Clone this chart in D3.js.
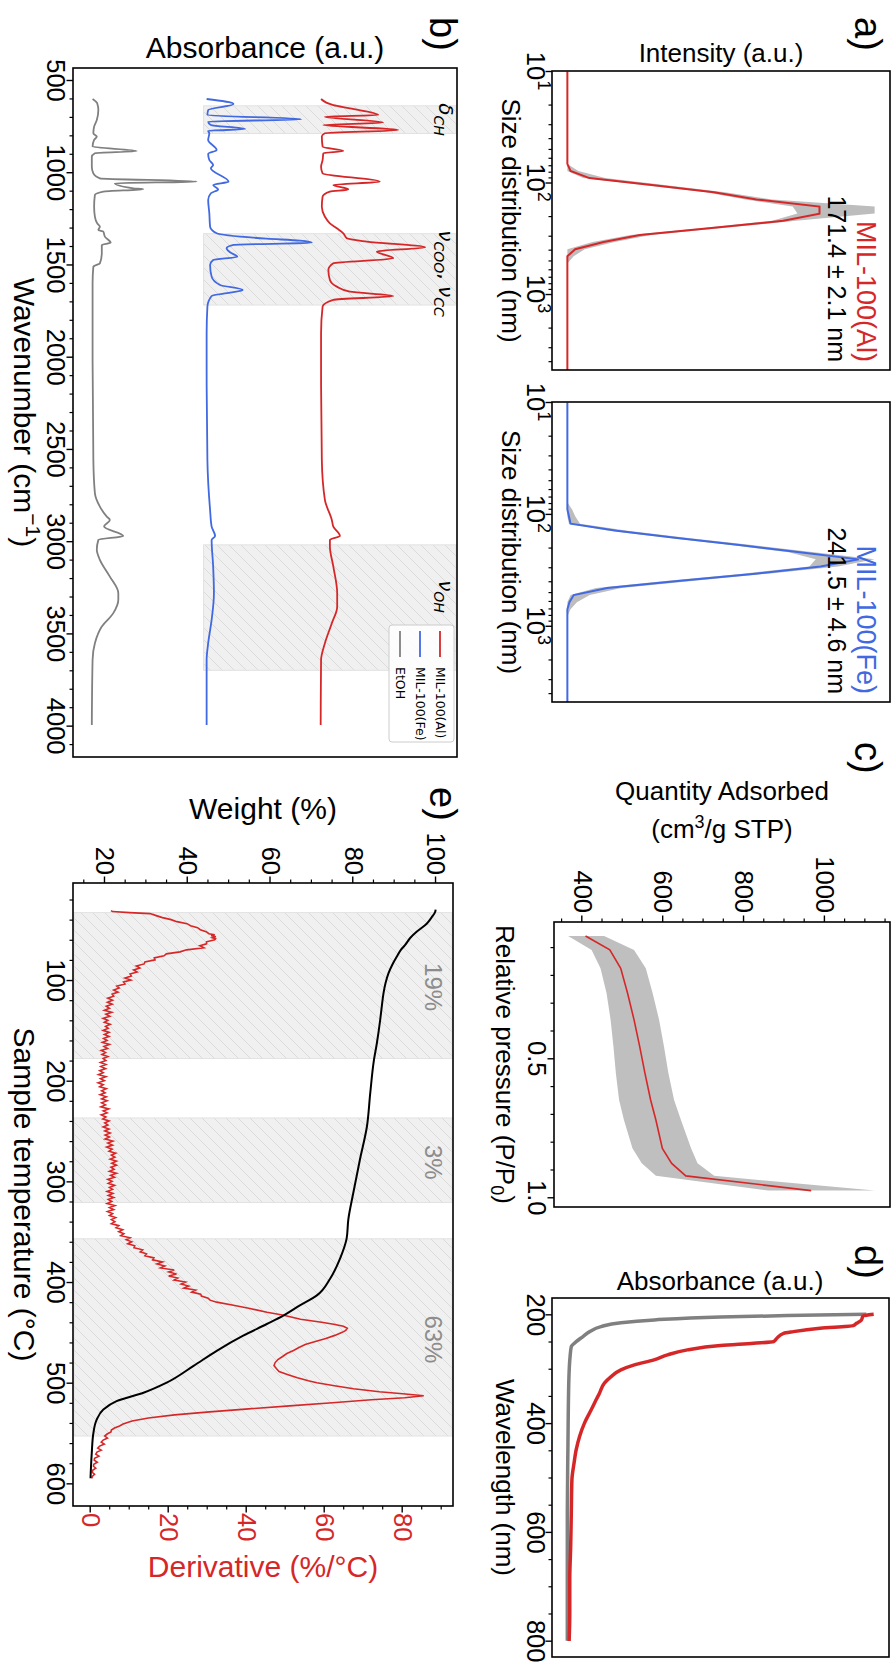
<!DOCTYPE html>
<html><head><meta charset="utf-8">
<script src="https://cdn.jsdelivr.net/npm/d3@7"></script>
<style>body{margin:0;background:#fff;overflow:hidden}svg{display:block}</style>
</head><body>
<script>
// ---------------- DATA ----------------
// (a) DLS size distribution bins (nm)
const sizeBins = [10.10,11.70,13.54,15.69,18.17,21.04,24.36,28.21,32.67,37.84,43.82,50.75,58.77,68.06,78.82,91.28,105.7,122.4,141.8,164.2,190.1,220.2,255.0,295.3,342.0,396.1,458.7,531.2,615.1,712.4,825.0,955.4,1106,1281,1484,1718,1990,2305,2669,3091,3580,4145,4801];
const alMean = [0,0,0,0,0,0,0,0,0,0,0,0,0,0,0.2,1.4,5.5,9.3,12.0,16.0,16.0,13.7,9.3,4.6,2.3,0.5,0,0,0,0,0,0,0,0,0,0,0,0,0,0,0,0,0];
const alLow  = [0,0,0,0,0,0,0,0,0,0,0,0,0,0,0,1.0,4.9,8.8,11.3,14.3,14.6,13.0,8.8,4.0,1.6,0,0,0,0,0,0,0,0,0,0,0,0,0,0,0,0,0,0];
const alHigh = [0,0,0,0,0,0,0,0,0,0,0,0,0,0,0.7,2.4,6.3,10.0,13.0,19.5,19.5,14.5,10.0,5.3,3.0,1.1,0.4,0,0,0,0,0,0,0,0,0,0,0,0,0,0,0,0];
const feMean = [0,0,0,0,0,0,0,0,0,0,0,0,0,0,0,0,0.1,0.2,3.1,6.9,10.8,14.6,18.3,15.9,11.8,7.1,2.5,0.4,0.13,0,0,0,0,0,0,0,0,0,0,0,0,0,0];
const feLow  = [0,0,0,0,0,0,0,0,0,0,0,0,0,0,0,0,0,0.1,2.6,6.4,10.3,13.9,15.6,15.2,11.0,6.3,1.8,0.2,0,0,0,0,0,0,0,0,0,0,0,0,0,0,0];
const feHigh = [0,0,0,0,0,0,0,0,0,0,0,0,0,0,0,0.3,0.5,0.8,3.8,7.6,11.6,15.5,19.3,17.0,12.6,8.0,3.4,1.4,0.6,0.2,0,0,0,0,0,0,0,0,0,0,0,0,0];
const sizeMajor = [10,100,1000];
const sizeMinor = [20,30,40,50,60,70,80,90,200,300,400,500,600,700,800,900,2000,3000,4000];

// (b) FTIR  [wavenumber, absorbance]
const ftirAl = [[603,0.646],[636,0.678],[654,0.721],[690,0.795],[699,0.656],[731,0.808],[744,0.652],[771,0.847],[789,0.656],[807,0.648],[861,0.650],[885,0.704],[897,0.652],[934,0.650],[970,0.646],[1006,0.650],[1051,0.799],[1069,0.678],[1093,0.717],[1105,0.669],[1132,0.650],[1187,0.648],[1241,0.656],[1277,0.669],[1304,0.687],[1331,0.704],[1358,0.713],[1376,0.765],[1407,0.917],[1430,0.791],[1467,0.834],[1494,0.678],[1530,0.665],[1584,0.669],[1620,0.687],[1647,0.721],[1671,0.834],[1692,0.678],[1729,0.650],[1873,0.646],[2072,0.646],[2560,0.648],[2776,0.656],[2885,0.674],[2921,0.678],[2972,0.695],[2993,0.669],[3029,0.669],[3138,0.678],[3282,0.688],[3355,0.688],[3445,0.674],[3553,0.656],[3644,0.646],[3996,0.645]];
const ftirFe = [[603,0.348],[630,0.418],[663,0.352],[690,0.350],[713,0.595],[726,0.352],[744,0.359],[766,0.448],[776,0.352],[789,0.355],[825,0.352],[879,0.374],[901,0.352],[934,0.355],[961,0.365],[979,0.359],[1051,0.405],[1069,0.365],[1093,0.378],[1114,0.359],[1150,0.352],[1223,0.355],[1295,0.357],[1331,0.374],[1360,0.504],[1371,0.591],[1382,0.622],[1394,0.418],[1412,0.400],[1434,0.409],[1458,0.428],[1476,0.365],[1503,0.357],[1566,0.361],[1611,0.383],[1638,0.442],[1653,0.409],[1671,0.361],[1729,0.350],[1873,0.348],[2072,0.348],[2560,0.350],[2831,0.357],[2921,0.361],[2972,0.370],[2993,0.361],[3138,0.365],[3282,0.367],[3427,0.361],[3553,0.352],[3644,0.348],[3996,0.348]];
const ftirEtOH = [[603,0.051],[626,0.063],[663,0.066],[717,0.062],[753,0.055],[789,0.053],[807,0.062],[825,0.055],[861,0.051],[885,0.166],[897,0.057],[916,0.049],[970,0.049],[1006,0.053],[1033,0.070],[1051,0.322],[1060,0.109],[1087,0.157],[1092,0.183],[1105,0.079],[1123,0.057],[1187,0.055],[1241,0.057],[1277,0.063],[1295,0.070],[1313,0.066],[1322,0.079],[1349,0.083],[1382,0.098],[1394,0.075],[1439,0.075],[1494,0.070],[1512,0.053],[1602,0.051],[2018,0.051],[2560,0.053],[2740,0.057],[2813,0.070],[2867,0.088],[2885,0.096],[2921,0.081],[2972,0.131],[2993,0.066],[3047,0.062],[3101,0.070],[3192,0.096],[3282,0.118],[3318,0.118],[3390,0.105],[3463,0.075],[3553,0.057],[3643,0.051],[3996,0.049]];
const ftirRegions = [[640,790],[1333,1720],[3020,3700]];
const ftirTicks = [500,1000,1500,2000,2500,3000,3500,4000];
const ftirLegend = ["MIL-100(Al)","MIL-100(Fe)","EtOH"];

// (c) N2 isotherm
const isoP    = [0.06,0.11,0.176,0.266,0.362,0.458,0.554,0.650,0.722,0.824,0.878,0.923,0.976];
const isoMean = [408,468,495,512,528,542,555,569,582,598,621,656,966];
const isoLow  = [365,423,445,460,470,477,483,491,503,524,547,582,860];
const isoHigh = [454,528,557,574,590,602,613,627,644,669,685,726,1123];
const isoQTicks = [400,600,800,1000];
const isoPTicks = [0.5,1.0];

// (d) UV-vis
const uvGrayWl = [200,202.4,204.9,210.4,215.3,222.6,231.8,241,250.2,259.3,277.7,320.5,442.8,565.1,800];
const uvGrayA  = [0.976,0.717,0.500,0.284,0.175,0.110,0.073,0.051,0.029,0.013,0.009,0.005,0.002,0,0];
const uvRedWl  = [200,203.1,210.4,216.5,220.8,225.7,231.8,234.9,244.0,250.2,253.2,257.5,265.4,274.6,283.8,293,302.1,314.4,326.6,345,357.2,375.5,400,424.5,448.9,473.4,504,565.1,626.3,687.4,748.6,800.6];
const uvRedA   = [1.0,0.965,0.960,0.944,0.933,0.825,0.738,0.706,0.684,0.673,0.608,0.500,0.392,0.327,0.283,0.219,0.175,0.143,0.121,0.105,0.094,0.078,0.056,0.040,0.029,0.022,0.015,0.013,0.011,0.008,0.008,0.006];
const uvTicks = [200,400,600,800];

// (e) TGA
const tgaWeight = [[30,99.9],[32.2,99.8],[38,98.9],[43.8,97.8],[52.1,95.3],[58,93.8],[65.3,92.5],[70,91.5],[76.9,90.5],[85,89.4],[93.4,88.5],[103,87.8],[113.2,87.3],[126,86.9],[139.7,86.5],[162.8,85.7],[179.3,85.0],[212.4,84.1],[245.5,83.3],[278.5,81.6],[311.6,80.0],[338,78.8],[356.7,78.4],[376.7,76.8],[396.7,74.4],[413.3,71.2],[423.3,67.1],[433.3,63.1],[441.7,59.1],[453.3,53.4],[468.3,47.0],[483.3,41.4],[500,34.9],[510,29.3],[518.3,22.8],[526.7,19.6],[536.7,18.0],[550,17.2],[570,16.8],[595,16.5]];
const tgaDeriv = [[31,5.2],[32,5.6],[33,10],[34,15.2],[36,16.8],[38,18.4],[40,20.6],[42,22.1],[44,24.7],[46,25.6],[48,27.4],[50,28.1],[52,29.6],[54,30.3],[55,31.8],[56,30.9],[57,32.1],[58,31.2],[59,32.0],
[60,31.8],[62,29.7],[64,29.7],[66,28.0],[68,29.0],[70,24.6],[72,22.9],[74,19.4],[76,18.8],[78,16.3],[80,16.5],[82,13.9],[84,13.7],[86,11.7],[88,12.6],[90,11.0],[92,11.9],[94,10.1],[96,10.4],[98,8.8],
[100,10.3],[102,8.4],[104,8.8],[106,6.7],[108,7.3],[110,5.9],[112,7.0],[114,5.5],[116,5.9],[118,4.4],[120,5.6],[122,4.3],[124,5.5],[126,4.0],[128,4.8],[130,3.5],[132,5.4],[134,3.9],[136,4.9],[138,3.2],
[140,4.4],[142,3.5],[144,5.0],[146,3.8],[148,4.5],[150,3.2],[152,4.7],[154,3.5],[156,4.7],[158,3.3],[160,4.2],[162,3.0],[164,4.8],[166,3.4],[168,4.3],[170,2.7],[172,3.8],[174,2.9],[176,4.4],[178,3.2],
[180,3.9],[182,2.5],[184,3.9],[186,2.6],[188,3.8],[190,2.3],[192,3.2],[194,2.0],[196,3.9],[198,2.5],[200,3.5],[202,1.9],[204,3.2],[206,2.3],[208,4.0],[210,2.8],[212,3.7],[214,2.4],[216,4.0],[218,2.8],
[220,4.2],[222,2.8],[224,3.8],[226,2.6],[228,4.6],[230,3.2],[232,4.2],[234,2.7],[236,3.9],[238,3.1],[240,4.7],[242,3.6],[244,4.4],[246,3.2],[248,4.7],[250,3.6],[252,5.0],[254,3.7],[256,4.8],[258,3.7],
[260,5.7],[262,4.4],[264,5.6],[266,4.1],[268,5.5],[270,4.7],[272,6.4],[274,5.3],[276,6.2],[278,5.0],[280,6.6],[282,5.4],[284,6.6],[286,5.2],[288,6.0],[290,4.8],[292,6.6],[294,5.1],[296,6.1],[298,4.4],
[300,5.5],[302,4.5],[304,6.1],[306,4.8],[308,5.6],[310,4.2],[312,5.7],[314,4.5],[316,5.9],[318,4.5],[320,5.4],[322,4.2],[324,6.2],[326,4.8],[328,5.9],[330,4.3],[332,5.6],[334,4.8],[336,6.4],[338,5.3],
[340,6.2],[342,5.3],[344,7.2],[346,6.5],[348,8.2],[350,7.2],[352,8.5],[354,7.7],[356,10.1],[358,9.1],[360,10.5],[362,9.5],[364,11.3],[366,11.1],[368,13.3],[370,12.7],[372,14.3],[374,13.9],[376,16.2],[378,15.9],
[380,18.4],[382,17.0],[384,19.0],[386,17.9],[388,21.4],[390,20.0],[392,22.0],[394,20.0],[396,22.3],[398,21.4],[400,24.3],[402,23.2],[404,25.1],[406,23.9],[408,26.9],[410,25.9],[412,28.2],[414,28.4],[416,30.1],[418,30.6],[420,32.3],
[423,36.6],[426,40.5],[430,45.2],[433,49.5],[437,53.8],[440,59.2],[442,62.3],[444,64.8],[446,65.8],[448,65.4],[450,64.5],[453,62.6],[456,60.3],[459,57.6],[462,55.0],[465,53.4],[468,52.0],[471,50.3],[474,49.2],[477,48.0],[480,47.3],[483,47.0],[486,47.6],[489,48.3],[492,50.6],[495,53.0],[498,55.8],[500,58.0],[503,62.5],[506,67.4],[509,74.0],[511,80.0],[513,85.4],[515,80.5],[517,72.0],[520,62.0],[523,51.0],[526,40.5],[529,30.5],[532,21.5],[535,14.8],[538,10.6],[541,8.3],[543,7.4],[545,6.1],[547,5.3],[549,5.2],[551,4.2],[553,3.6],[555,4.3],[557,3.2],[559,2.7],[561,3.5],[563,2.3],[565,1.8],[567,2.7],[569,1.6],[571,1.3],[573,2.1],[575,1.0],[577,0.9],[579,1.7],[581,0.8],[583,0.7],[585,1.3],[587,0.5],[589,0.4],[591,1.0],[593,0.4],[595,0.3]];
const tgaRegions = [[33,178],[237,321],[357,553]];
const tgaRegionLabels = ["19%","3%","63%"];
const tgaRegionLabelT = [107,281,457];
const tempTicks = [100,200,300,400,500,600];
const weightTicks = [20,40,60,80,100];
const derivTicks = [0,20,40,60,80];

// ---------------- DRAWING ----------------
const FONT = "'Liberation Sans', Arial, Helvetica, sans-serif";
const RED = "#d62728", BLUE = "#4169e1", GRAY = "#808080";
const svg = d3.select("body").append("svg").attr("width",896).attr("height",1664).attr("font-family",FONT);
const defs = svg.append("defs");
const hw = 12;
const pat = defs.append("pattern").attr("id","hatch").attr("patternUnits","userSpaceOnUse").attr("width",hw).attr("height",hw);
pat.append("rect").attr("width",hw).attr("height",hw).attr("fill","#f0f0f0");
pat.append("path").attr("d",`M0,${hw} L${hw},0 M${-hw/4},${hw/4} L${hw/4},${-hw/4} M${3*hw/4},${5*hw/4} L${5*hw/4},${3*hw/4}`).attr("stroke","#d6d6d6").attr("stroke-width",0.8);

// landscape group, rotated 90deg clockwise
const L = svg.append("g").attr("transform","translate(896,0) rotate(90)");

function ax(axisFn, scale, tx, ty, major, minor, fmt, opt={}){
  const fs = opt.fs||25.5, pad = opt.pad==null?2:opt.pad, col = opt.color||"#000";
  if(minor && minor.length){
    const gm = L.append("g").attr("transform",`translate(${tx},${ty})`).call(axisFn(scale).tickValues(minor).tickSize(3.5).tickFormat(()=>""));
    gm.select(".domain").remove();
    gm.selectAll("line").attr("stroke","#000").attr("stroke-width",1.2);
  }
  const g = L.append("g").attr("transform",`translate(${tx},${ty})`).call(axisFn(scale).tickValues(major).tickSize(6.5).tickPadding(pad).tickFormat(fmt||(()=>"")));
  g.select(".domain").remove();
  g.selectAll("line").attr("stroke","#000").attr("stroke-width",1.4);
  g.selectAll("text").attr("font-size",fs).attr("font-family",FONT).attr("fill",col);
  return g;
}
function frame(p){
  L.append("rect").attr("x",p.x0).attr("y",p.y0).attr("width",p.x1-p.x0).attr("height",p.y1-p.y0)
   .attr("fill","none").attr("stroke","#000").attr("stroke-width",1.6);
}
function vlabel(x,y,txt,fs,col){
  return L.append("text").attr("transform",`translate(${x},${y}) rotate(-90)`).attr("text-anchor","middle")
   .attr("font-size",fs).attr("fill",col||"#000").text(txt);
}
function hlabel(x,y,txt,fs,col){
  return L.append("text").attr("x",x).attr("y",y).attr("text-anchor","middle").attr("font-size",fs).attr("fill",col||"#000").text(txt);
}
function panelLabel(x,y,t){ L.append("text").attr("x",x).attr("y",y).attr("font-size",38).text(t); }

// ---- (a) size distributions ----
const A1 = {x0:71,x1:370,y0:6,y1:344}, A2 = {x0:402,x1:702,y0:6,y1:344};
function sizePanel(P, mean, lo, hi, color, name, val){
  const x = d3.scaleLog().domain([10,4801]).range([P.x0,P.x1]);
  const mx = d3.max(hi), pd = 0.05*mx;
  const y = d3.scaleLinear().domain([-pd, mx+pd]).range([P.y1,P.y0]);
  const g = L.append("g");
  const area = d3.area().x((d,i)=>x(sizeBins[i])).y0((d,i)=>y(lo[i])).y1((d,i)=>y(hi[i]));
  g.append("path").datum(mean).attr("d",area).attr("fill","#bdbdbd");
  const line = d3.line().x((d,i)=>x(sizeBins[i])).y(d=>y(d));
  g.append("path").datum(mean).attr("d",line).attr("fill","none").attr("stroke",color).attr("stroke-width",2);
  ax(d3.axisBottom, x, 0, P.y1, sizeMajor, sizeMinor, ()=>"");
  sizeMajor.forEach((v,i)=>{
    const t = L.append("text").attr("x",x(v)).attr("y",369).attr("text-anchor","middle").attr("font-size",25.5);
    t.append("tspan").text("10");
    t.append("tspan").attr("dy",-11).attr("font-size",18).text(String(i+1));
  });
  L.append("text").attr("x",P.x1-8).attr("y",39).attr("text-anchor","end").attr("font-size",27).attr("fill",color).text(name);
  L.append("text").attr("x",P.x1-8).attr("y",68).attr("text-anchor","end").attr("font-size",25).attr("fill","#000").text(val);
  hlabel((P.x0+P.x1)/2, 394, "Size distribution (nm)", 26);
  frame(P);
}
sizePanel(A1, alMean, alLow, alHigh, RED, "MIL-100(Al)", "171.4 \u00b1 2.1 nm");
sizePanel(A2, feMean, feLow, feHigh, BLUE, "MIL-100(Fe)", "241.5 \u00b1 4.6 nm");
vlabel(62, 175, "Intensity (a.u.)", 26);
panelLabel(17, 41, "a)");

// ---- (b) FTIR ----
const B = {x0:68,x1:757,y0:439,y1:823};
const xB = d3.scaleLinear().domain([435,4170]).range([B.x0,B.x1]);
const yB = d3.scaleLinear().domain([0,1]).range([B.y1,B.y0]);
ftirRegions.forEach(r=>{
  L.append("rect").attr("x",xB(r[0])).attr("y",B.y0+1).attr("width",xB(r[1])-xB(r[0])).attr("height",yB(0.34)-B.y0-1)
   .attr("fill","url(#hatch)").attr("stroke","#e2e2e2").attr("stroke-width",1);
});
const lineB = d3.line().x(d=>xB(d[0])).y(d=>yB(d[1])).curve(d3.curveMonotoneX);
[[ftirAl,RED],[ftirFe,BLUE],[ftirEtOH,GRAY]].forEach(([s,c])=>{
  L.append("path").datum(s).attr("d",lineB).attr("fill","none").attr("stroke",c).attr("stroke-width",1.8);
});
function nuLabel(w, parts){
  const t = L.append("text").attr("x",xB(w)).attr("y",457).attr("text-anchor","middle")
    .attr("font-family","'DejaVu Sans', sans-serif").attr("font-style","italic").attr("font-size",20);
  let off = 0;
  parts.forEach(p=>{
    const ts = t.append("tspan").text(p[0]);
    const want = p[1] ? 5 : 0;
    if(want!==off){ ts.attr("dy", want-off); off = want; }
    if(p[1]) ts.attr("font-size",14);
    if(p[2]) ts.attr("font-style","normal");
  });
}
nuLabel(714, [["\u03b4",0],["CH",1]]);
nuLabel(1549, [["\u03bd",0],["COO",1],[", ",0,1],["\u03bd",0],["CC",1]]);
nuLabel(3300, [["\u03bd",0],["OH",1]]);
ax(d3.axisBottom, xB, 0, B.y1, ftirTicks, d3.range(500,4200,100).filter(v=>v%500), d3.format("d"), {pad:1.5});
const lg = L.append("g");
lg.append("rect").attr("x",625).attr("y",442).attr("width",117).attr("height",65).attr("rx",3)
  .attr("fill","#fff").attr("fill-opacity",0.85).attr("stroke","#cccccc").attr("stroke-width",1);
[RED,BLUE,GRAY].forEach((c,i)=>{
  const yy = 456 + i*20;
  lg.append("line").attr("x1",631).attr("x2",657).attr("y1",yy).attr("y2",yy).attr("stroke",c).attr("stroke-width",1.8);
  lg.append("text").attr("x",667).attr("y",yy).attr("dy","0.35em").attr("font-family","'DejaVu Sans', sans-serif").attr("font-size",12.5).text(ftirLegend[i]);
});
frame(B);
vlabel(58, (B.y0+B.y1)/2, "Absorbance (a.u.)", 30);
{
  const t = hlabel((B.x0+B.x1)/2, 882, "Wavenumber (cm", 30);
  t.append("tspan").attr("dy",-12).attr("font-size",21).text("\u22121");
  t.append("tspan").attr("dy",12).text(")");
}
panelLabel(17, 466, "b)");

// ---- (c) isotherm ----
const C = {x0:922,x1:1207,y0:6,y1:342};
const xC = d3.scaleLinear().domain([0.0097,1.035]).range([C.x0,C.x1]);
const yC = d3.scaleLinear().domain([330,1161]).range([C.y1,C.y0]);
L.append("path").datum(isoP).attr("d", d3.area().x(d=>xC(d)).y0((d,i)=>yC(isoLow[i])).y1((d,i)=>yC(isoHigh[i]))).attr("fill","#bfbfbf");
L.append("path").datum(isoP).attr("d", d3.line().x(d=>xC(d)).y((d,i)=>yC(isoMean[i]))).attr("fill","none").attr("stroke",RED).attr("stroke-width",1.6);
ax(d3.axisBottom, xC, 0, C.y1, isoPTicks, [0.1,0.2,0.3,0.4,0.6,0.7,0.8,0.9], d3.format(".1f"), {pad:1});
ax(d3.axisLeft, yC, C.x0, 0, isoQTicks, d3.range(350,1160,50).filter(v=>v%200), d3.format("d"), {pad:2.5});
frame(C);
vlabel(800, 174, "Quantity Adsorbed", 26);
{
  const t = vlabel(838, 174, "(cm", 26);
  t.append("tspan").attr("dy",-10).attr("font-size",18).text("3");
  t.append("tspan").attr("dy",10).text("/g STP)");
}
{
  const t = hlabel((C.x0+C.x1)/2, 400, "Relative pressure (P/P", 26);
  t.append("tspan").attr("dy",5).attr("font-size",18).text("0");
  t.append("tspan").attr("dy",-5).text(")");
}
panelLabel(742, 41, "c)");

// ---- (d) UV-vis ----
const D = {x0:1298,x1:1657,y0:7,y1:344};
const xD = d3.scaleLinear().domain([170,830]).range([D.x0,D.x1]);
const yD = d3.scaleLinear().domain([-0.05,1.05]).range([D.y1,D.y0]);
L.append("path").datum(uvGrayWl).attr("d", d3.line().x(d=>xD(d)).y((d,i)=>yD(uvGrayA[i])).curve(d3.curveMonotoneX))
  .attr("fill","none").attr("stroke",GRAY).attr("stroke-width",3.5);
L.append("path").datum(uvRedWl).attr("d", d3.line().x(d=>xD(d)).y((d,i)=>yD(uvRedA[i])).curve(d3.curveMonotoneX))
  .attr("fill","none").attr("stroke",RED).attr("stroke-width",3.5);
ax(d3.axisBottom, xD, 0, D.y1, uvTicks, d3.range(250,800,50).filter(v=>v%200), d3.format("d"), {pad:0});
frame(D);
vlabel(1290, 176, "Absorbance (a.u.)", 26);
hlabel((D.x0+D.x1)/2, 400, "Wavelength (nm)", 26);
panelLabel(1245, 41, "d)");

// ---- (e) TGA ----
const E = {x0:883,x1:1506,y0:443,y1:823};
const xE = d3.scaleLinear().domain([3.6,622.5]).range([E.x0,E.x1]);
const yW = d3.scaleLinear().domain([12.27,104.1]).range([E.y1,E.y0]);
const yDv = d3.scaleLinear().domain([-4.54,92.9]).range([E.y1,E.y0]);
tgaRegions.forEach((r,i)=>{
  L.append("rect").attr("x",xE(r[0])).attr("y",E.y0+1).attr("width",xE(r[1])-xE(r[0])).attr("height",E.y1-E.y0-2)
   .attr("fill","url(#hatch)").attr("stroke","#e2e2e2").attr("stroke-width",1);
  L.append("text").attr("x",xE(tgaRegionLabelT[i])).attr("y",471).attr("text-anchor","middle").attr("font-size",24).attr("fill","#8c8c8c").text(tgaRegionLabels[i]);
});
L.append("path").datum(tgaDeriv).attr("d", d3.line().x(d=>xE(d[0])).y(d=>yDv(d[1])))
  .attr("fill","none").attr("stroke",RED).attr("stroke-width",1.6);
L.append("path").datum(tgaWeight).attr("d", d3.line().x(d=>xE(d[0])).y(d=>yW(d[1])).curve(d3.curveMonotoneX))
  .attr("fill","none").attr("stroke","#000").attr("stroke-width",2);
ax(d3.axisBottom, xE, 0, E.y1, tempTicks, d3.range(20,620,20).filter(v=>v%100), d3.format("d"), {pad:1.5});
ax(d3.axisLeft, yW, E.x0, 0, weightTicks, d3.range(15,105,5).filter(v=>v%20), d3.format("d"), {pad:1.5});
ax(d3.axisRight, yDv, E.x1, 0, derivTicks, d3.range(5,95,5).filter(v=>v%20), d3.format("d"), {pad:0.5, color:RED});
frame(E);
vlabel(819, 633, "Weight (%)", 30);
vlabel(1577, 633, "Derivative (%/\u00b0C)", 30, RED);
hlabel((E.x0+E.x1)/2, 882, "Sample temperature (\u00b0C)", 30);
panelLabel(787, 466, "e)");
</script>
</body></html>
